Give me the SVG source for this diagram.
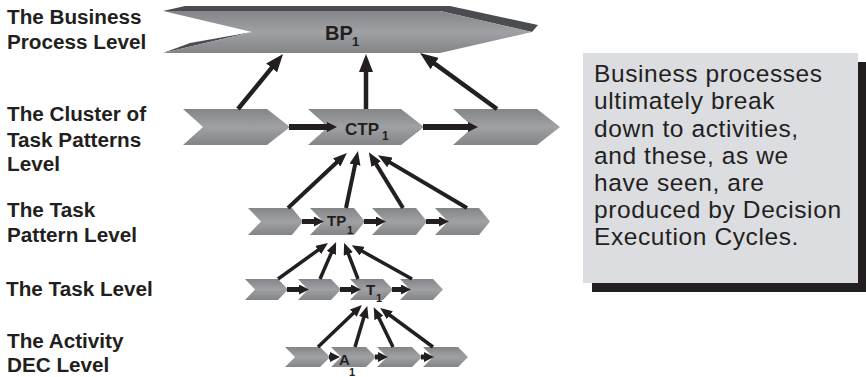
<svg xmlns="http://www.w3.org/2000/svg" width="866" height="377" viewBox="0 0 866 377">
  <defs>
    <linearGradient id="chevFill" x1="0" y1="0" x2="0" y2="1">
      <stop offset="0" stop-color="#848589"/>
      <stop offset="0.5" stop-color="#a0a1a4"/>
      <stop offset="1" stop-color="#838488"/>
    </linearGradient>
    <marker id="headL" markerUnits="userSpaceOnUse" markerWidth="18" markerHeight="14" refX="11" refY="7" orient="auto">
      <path d="M0,0 L18,7 L0,14 z" fill="#231f20"/>
    </marker>
    <marker id="headM" markerUnits="userSpaceOnUse" markerWidth="14" markerHeight="11" refX="8" refY="5.5" orient="auto">
      <path d="M0,0 L14,5.5 L0,11 z" fill="#231f20"/>
    </marker>
    <marker id="headS" markerUnits="userSpaceOnUse" markerWidth="12" markerHeight="10" refX="7" refY="5" orient="auto">
      <path d="M0,0 L12,5 L0,10 z" fill="#231f20"/>
    </marker>
    <marker id="headH" markerUnits="userSpaceOnUse" markerWidth="10" markerHeight="10" refX="3" refY="5" orient="auto">
      <path d="M0,0 L10,5 L0,10 z" fill="#231f20"/>
    </marker>
  </defs>
  <style>
    .chev { fill: url(#chevFill); }
    .lab { font-family: "Liberation Sans", Arial, sans-serif; font-weight: bold; font-size: 20.7px; fill: #231f20; }
    .nm { font-family: "Liberation Sans", Arial, sans-serif; font-weight: bold; fill: #231f20; }
    .note { font-family: "Liberation Sans", Arial, sans-serif; font-size: 24.5px; letter-spacing: 0.6px; fill: #231f20; }
    .up { fill: none; stroke: #231f20; }
    .upL { stroke-width: 4.5; marker-end: url(#headL); }
    .upM { stroke-width: 4; marker-end: url(#headM); }
    .upS { stroke-width: 3.5; marker-end: url(#headS); }
    .bar { fill: none; stroke: #231f20; marker-end: url(#headH); }
  </style>

  <!-- level captions -->
  <g id="captions">
    <text class="lab" x="7" y="24">The Business</text>
    <text class="lab" x="7" y="49">Process Level</text>
    <text class="lab" x="7" y="121">The Cluster of</text>
    <text class="lab" x="7" y="147">Task Patterns</text>
    <text class="lab" x="7" y="171">Level</text>
    <text class="lab" x="7" y="217">The Task</text>
    <text class="lab" x="7" y="242">Pattern Level</text>
    <text class="lab" x="6" y="296">The Task Level</text>
    <text class="lab" x="7" y="348">The Activity</text>
    <text class="lab" x="7" y="372">DEC Level</text>
  </g>

  <!-- business process (extruded chevron) -->
  <g id="bp1">
    <polygon points="163,11 185,6 450,6 538,25 532,32 440,11" fill="#4b4c4f"/>
    <polygon points="163,53 190,43 252,32" fill="#4b4c4f"/>
    <polygon class="chev" points="163,11 440,11 532,32 440,53 163,53 252,32"/>
    <text class="nm" x="325" y="40" font-size="20">BP</text>
    <text class="nm" x="352" y="46" font-size="13">1</text>
  </g>

  <!-- cluster of task patterns -->
  <g id="ctp-a"><polygon class="chev" points="183,109 267,109 290,127 267,145 183,145 203,127"/></g>
  <g id="ctp1">
    <polygon class="chev" points="308,109 401,109 424,127 401,145 308,145 328,127"/>
    <text class="nm" x="345" y="135" font-size="17">CTP</text>
    <text class="nm" x="382" y="140" font-size="12">1</text>
  </g>
  <g id="ctp-c"><polygon class="chev" points="453,109 537,109 560,127 537,145 453,145 473,127"/></g>

  <!-- task patterns -->
  <g id="tp-a"><polygon class="chev" points="248,208 292,208 303,221.5 292,235 248,235 261,221.5"/></g>
  <g id="tp1">
    <polygon class="chev" points="310,208 354,208 365,221.5 354,235 310,235 323,221.5"/>
    <text class="nm" x="327" y="226" font-size="15">TP</text>
    <text class="nm" x="347" y="234" font-size="11">1</text>
  </g>
  <g id="tp-c"><polygon class="chev" points="372,208 416,208 427,221.5 416,235 372,235 385,221.5"/></g>
  <g id="tp-d"><polygon class="chev" points="435,208 479,208 490,221.5 479,235 435,235 448,221.5"/></g>

  <!-- tasks -->
  <g id="t-a"><polygon class="chev" points="245,279 278,279 288,289.5 278,300 245,300 255,289.5"/></g>
  <g id="t-b"><polygon class="chev" points="298,279 331,279 341,289.5 331,300 298,300 308,289.5"/></g>
  <g id="t1">
    <polygon class="chev" points="350,279 383,279 393,289.5 383,300 350,300 360,289.5"/>
    <text class="nm" x="366" y="295" font-size="15">T</text>
    <text class="nm" x="376" y="302" font-size="11">1</text>
  </g>
  <g id="t-d"><polygon class="chev" points="400,279 433,279 443,289.5 433,300 400,300 410,289.5"/></g>

  <!-- activity DECs -->
  <g id="a-a"><polygon class="chev" points="285,347 320,347 330,357 320,367 285,367 295,357"/></g>
  <g id="a1">
    <polygon class="chev" points="331,347 366,347 376,357 366,367 331,367 341,357"/>
    <text class="nm" x="339" y="365" font-size="15">A</text>
    <text class="nm" x="349" y="376" font-size="11">1</text>
  </g>
  <g id="a-c"><polygon class="chev" points="377,347 412,347 422,357 412,367 377,367 387,357"/></g>
  <g id="a-d"><polygon class="chev" points="423,347 458,347 468,357 458,367 423,367 433,357"/></g>

  <!-- connectors -->
  <g id="connectors">
    <!-- sequence bars -->
    <line class="bar" stroke-width="6" x1="289" y1="127" x2="330" y2="127"/>
    <line class="bar" stroke-width="6" x1="423" y1="127" x2="471" y2="127"/>
    <line class="bar" stroke-width="5" x1="302" y1="221.5" x2="317" y2="221.5"/>
    <line class="bar" stroke-width="5" x1="364" y1="221.5" x2="379" y2="221.5"/>
    <line class="bar" stroke-width="5" x1="426" y1="221.5" x2="442" y2="221.5"/>
    <line class="bar" stroke-width="5" x1="287" y1="289.5" x2="302" y2="289.5"/>
    <line class="bar" stroke-width="5" x1="340" y1="289.5" x2="354" y2="289.5"/>
    <line class="bar" stroke-width="5" x1="392" y1="289.5" x2="404" y2="289.5"/>
    <line class="bar" stroke-width="5" x1="329" y1="357" x2="333" y2="357"/>
    <line class="bar" stroke-width="5" x1="375" y1="357" x2="381" y2="357"/>
    <line class="bar" stroke-width="5" x1="421" y1="357" x2="427" y2="357"/>

    <!-- cluster to business process -->
    <line class="up upL" x1="238" y1="109" x2="278.6" y2="59.4"/>
    <line class="up upL" x1="366" y1="109" x2="366" y2="61"/>
    <line class="up upL" x1="497" y1="109" x2="425.7" y2="57.1"/>

    <!-- task patterns to CTP1 -->
    <line class="up upM" x1="288" y1="208" x2="342.5" y2="157"/>
    <line class="up upM" x1="346" y1="208" x2="356.7" y2="156.9"/>
    <line class="up upM" x1="403" y1="208" x2="372" y2="157.4"/>
    <line class="up upM" x1="467" y1="208" x2="383.1" y2="158.4"/>

    <!-- tasks to TP1 -->
    <line class="up upS" x1="278" y1="279" x2="323.9" y2="245.9"/>
    <line class="up upS" x1="320" y1="279" x2="334.1" y2="246.6"/>
    <line class="up upS" x1="358" y1="279" x2="345.9" y2="247.5"/>
    <line class="up upS" x1="412" y1="279" x2="356.1" y2="247.8"/>

    <!-- activities to T1 -->
    <line class="up upS" x1="318" y1="347" x2="358.3" y2="308.4"/>
    <line class="up upS" x1="355" y1="347" x2="365.8" y2="310.8"/>
    <line class="up upS" x1="393" y1="347" x2="375.9" y2="311.7"/>
    <line class="up upS" x1="433" y1="347" x2="384.2" y2="311"/>
  </g>

  <!-- explanatory note -->
  <g id="note">
    <rect x="592" y="62" width="274" height="230" fill="#231f20"/>
    <rect x="583" y="53" width="275" height="230" fill="#dcdde0"/>
    <text class="note" x="594" y="82">Business processes</text>
    <text class="note" x="594" y="109">ultimately break</text>
    <text class="note" x="594" y="136.5">down to activities,</text>
    <text class="note" x="594" y="163.5">and these, as we</text>
    <text class="note" x="594" y="191">have seen, are</text>
    <text class="note" x="594" y="218">produced by Decision</text>
    <text class="note" x="594" y="245">Execution Cycles.</text>
  </g>
</svg>
